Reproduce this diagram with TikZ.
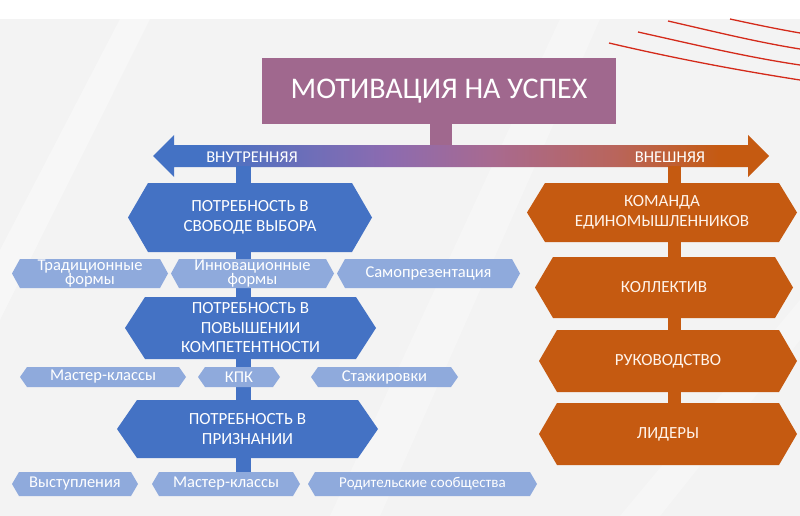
\documentclass[tikz,border=0pt]{standalone}
\usepackage{fontspec}
\setmainfont{Carlito}
\definecolor{bgc}{HTML}{F3F3F3}
\definecolor{titlec}{HTML}{A0688E}
\definecolor{blueA}{HTML}{4472C4}
\definecolor{blueL}{HTML}{8FAADC}
\definecolor{orangeA}{HTML}{C55A11}
\definecolor{purpc}{HTML}{8C6BB0}
\definecolor{mauvec}{HTML}{A86A90}
\definecolor{salmc}{HTML}{B9655C}
\definecolor{redl}{HTML}{D42A1A}
\definecolor{creamc}{HTML}{FFF3EA}
\pgfdeclarehorizontalshading{arrowsh}{100bp}{color(0bp)=(blueA); color(29bp)=(blueA); color(44bp)=(purpc); color(52.5bp)=(mauvec); color(62.5bp)=(salmc); color(71bp)=(orangeA); color(100bp)=(orangeA)}
\newcommand\hexnode[9]{%
  \fill[#1] ({#3+#7},#5) -- ({#4-#7},#5) -- (#4,{(#5+#6)/2}) -- ({#4-#7},#6) -- ({#3+#7},#6) -- (#3,{(#5+#6)/2}) -- cycle;
  \node[#8] (#2) at ({(#3+#4)/2},{(#5+#6)/2}) {#9};}
\tikzset{
  bigtxt/.style={text=white, font=\fontsize{17}{19.5}\selectfont, align=center, inner sep=0pt},
  smalltxt/.style={text=white, font=\fontsize{16.5}{12.5}\selectfont, align=center, inner sep=0pt},
  tinytxt/.style={text=white, font=\fontsize{15}{12}\selectfont, align=center, inner sep=0pt},
  ortxt/.style={text=creamc, font=\fontsize{17}{20}\selectfont, align=center, inner sep=0pt},
  dirtxt/.style={text=white, font=\fontsize{16.5}{18}\selectfont, inner sep=0pt},
  redarc/.style={draw=redl, line width=1.3pt},
}
\begin{document}
\begin{tikzpicture}[x=1pt,y=-1pt]
\useasboundingbox (0,0) rectangle (800,516);
% background
\fill[white] (0,0) rectangle (800,516);
\fill[bgc] (0,19) rectangle (800,516);
\fill[white, opacity=0.35] (0,250) -- (120,19) -- (150,19) -- (0,320) -- cycle;
\fill[white, opacity=0.3] (330,516) -- (560,19) -- (600,19) -- (380,516) -- cycle;
\fill[white, opacity=0.3] (620,516) -- (800,300) -- (800,340) -- (660,516) -- cycle;
% red arcs
\begin{scope}
\clip (0,19) rectangle (800,516);
\draw[redarc] (730,19) .. controls (753,24) and (777,29) .. (800,33);
\draw[redarc] (668,21) .. controls (712,31) and (756,42) .. (800,49);
\draw[redarc] (638,32) .. controls (692,44) and (746,57) .. (800,65);
\draw[redarc] (609,43) .. controls (673,58) and (736,70) .. (800,80);
\end{scope}
% title
\node[fill=titlec, minimum width=354pt, minimum height=66pt, inner sep=0pt, text=white,
      font=\fontsize{30}{36}\selectfont] (title) at (439,91) {МОТИВАЦИЯ НА УСПЕХ};
\coordinate (split) at (441,150);
\draw[titlec, line width=22pt] (title.south -| split) -- (split);
% double arrow
\path[shading=arrowsh]
  (153,156) -- (174,135) -- (174,145) -- (748,145) -- (748,135) -- (769,156)
  -- (748,177) -- (748,167) -- (174,167) -- (174,177) -- cycle;
\node[dirtxt] (inner) at (252,157) {ВНУТРЕННЯЯ};
\node[dirtxt] (outer) at (670,157) {ВНЕШНЯЯ};
% stems
\coordinate (lstemtop) at (243,166);
\coordinate (lstembot) at (243,484);
\coordinate (rstemtop) at (674,166);
\coordinate (rstembot) at (674,434);
\draw[blueA, line width=15pt] (lstemtop) -- (lstembot);
\draw[orangeA, line width=13pt] (rstemtop) -- (rstembot);
% blue big hexagons
\hexnode{blueA}{b1}{128}{372}{183}{252}{20}{bigtxt}{ПОТРЕБНОСТЬ В\\СВОБОДЕ ВЫБОРА}
\hexnode{blueA}{b2}{125}{376}{297}{359}{20}{bigtxt}{ПОТРЕБНОСТЬ В\\ПОВЫШЕНИИ\\КОМПЕТЕНТНОСТИ}
\hexnode{blueA}{b3}{117}{378}{400}{458}{20}{bigtxt}{ПОТРЕБНОСТЬ В\\ПРИЗНАНИИ}
% row 1
\hexnode{blueL}{s11}{12}{168}{259}{288}{8}{smalltxt}{Традиционные\\формы}
\hexnode{blueL}{s12}{171}{334}{259}{288}{8}{smalltxt}{Инновационные\\формы}
\hexnode{blueL}{s13}{337}{520}{259}{288}{8}{smalltxt}{Самопрезентация}
% row 2
\hexnode{blueL}{s21}{20}{186}{367}{387}{7}{smalltxt}{Мастер-классы}
\hexnode{blueL}{s22}{198}{280}{367}{387}{7}{smalltxt}{КПК}
\hexnode{blueL}{s23}{311}{458}{367}{387}{7}{smalltxt}{Стажировки}
% row 3
\hexnode{blueL}{s31}{12}{138}{472}{496}{7}{smalltxt}{Выступления}
\hexnode{blueL}{s32}{152}{300}{472}{496}{7}{smalltxt}{Мастер-классы}
\hexnode{blueL}{s33}{308}{537}{472}{496}{7}{tinytxt}{Родительские сообщества}
% orange hexagons
\hexnode{orangeA}{o1}{527}{797}{183}{242}{18}{ortxt}{КОМАНДА\\ЕДИНОМЫШЛЕННИКОВ}
\hexnode{orangeA}{o2}{535}{793}{257}{318}{18}{ortxt}{КОЛЛЕКТИВ}
\hexnode{orangeA}{o3}{539}{797}{330}{392}{18}{ortxt}{РУКОВОДСТВО}
\hexnode{orangeA}{o4}{539}{797}{403}{465}{18}{ortxt}{ЛИДЕРЫ}
\end{tikzpicture}
\end{document}
